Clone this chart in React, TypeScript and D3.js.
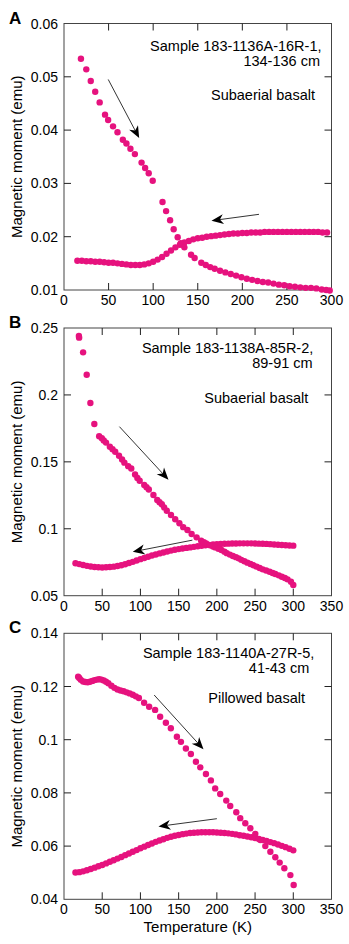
import React from "react";
import * as d3 from "d3";

type Pt = [number, number];

// ---------- Panel A data (Sample 183-1136A-16R-1) ----------
const heatingA: Pt[] = [
  [19, 0.0534], [25, 0.0514], [30, 0.0492], [35, 0.0472], [40, 0.0452], [46, 0.0429],
  [49.5, 0.0419], [55, 0.0407], [60, 0.0396], [66, 0.0382], [70, 0.0375], [74.5, 0.0365],
  [79.5, 0.0355], [87, 0.0339], [91, 0.0329], [95, 0.0319], [99.5, 0.0305], [110.5, 0.0265],
  [114.5, 0.0248], [119, 0.0231], [123, 0.0214], [127.5, 0.0199], [131, 0.0188], [135, 0.018],
  [142.5, 0.0166], [146.5, 0.016], [154, 0.0151], [159, 0.0147], [164, 0.0143], [169, 0.014],
  [175, 0.0136], [181, 0.0133], [187, 0.013], [193, 0.0127], [199, 0.0124], [205, 0.0121],
  [211, 0.0119], [217, 0.0117], [223, 0.0115], [229, 0.0114], [235, 0.0112], [241, 0.011],
  [247, 0.0109], [253, 0.0107], [259, 0.0106], [265, 0.0105], [271, 0.0104], [277, 0.0104],
  [283, 0.0103], [289, 0.0101], [294, 0.01], [298, 0.0099],
];
const coolingA: Pt[] = [
  [295, 0.0208], [290, 0.0208], [285, 0.0209], [280, 0.0209], [275, 0.0209], [270, 0.0209],
  [265, 0.0209], [260, 0.0209], [255, 0.0209], [250, 0.0209], [245, 0.0209], [240, 0.0209],
  [235, 0.0209], [230, 0.0209], [225, 0.0209], [220, 0.0208], [215, 0.0208], [210, 0.0208],
  [205, 0.0207], [200, 0.0207], [195, 0.0206], [190, 0.0206], [185, 0.0205], [180, 0.0204],
  [175, 0.0203], [170, 0.0202], [165, 0.0201], [160, 0.02], [155, 0.0198], [150, 0.0197],
  [145, 0.0195], [140, 0.0192], [135, 0.0189], [130, 0.0185], [125, 0.018], [120, 0.0174],
  [115, 0.0168], [110, 0.0162], [105, 0.0157], [100, 0.0153], [95, 0.015], [90, 0.0148],
  [85, 0.0147], [80, 0.0147], [75, 0.0147], [70, 0.0148], [65, 0.0149], [60, 0.015],
  [55, 0.0151], [50, 0.0151], [45, 0.0152], [40, 0.0153], [35, 0.0153], [30, 0.0154],
  [25, 0.0154], [20, 0.0155], [15, 0.0155],
];
const arrowsA: Pt[][] = [
  [[49.6, 0.0495], [84.3, 0.0385]],
  [[218.7, 0.0242], [165.4, 0.023]],
];
const xTicksA = [0, 50, 100, 150, 200, 250, 300];
const yTicksA = [0.01, 0.02, 0.03, 0.04, 0.05, 0.06];
const yLabelsA = ["0.01", "0.02", "0.03", "0.04", "0.05", "0.06"];
const textA = ["Sample 183-1136A-16R-1,", "134-136 cm", "Subaerial basalt"];

// ---------- Panel B data (Sample 183-1138A-85R-2) ----------
const heatingB: Pt[] = [
  [19.5, 0.244], [19.8, 0.2428], [25, 0.2318], [29.7, 0.2151], [34.5, 0.194], [39.7, 0.1783],
  [46, 0.1691], [49.5, 0.1676], [52, 0.166], [55, 0.1644], [60, 0.1613], [63.5, 0.1594],
  [67, 0.1576], [72, 0.1546], [76, 0.1518], [79, 0.1494], [84, 0.1468], [88, 0.145],
  [93, 0.1405], [96, 0.138], [99, 0.1359], [105, 0.1327], [108, 0.131], [111, 0.1293],
  [117, 0.1252], [122, 0.1215], [125, 0.1198], [128, 0.1183], [131, 0.116], [134.5, 0.1135],
  [140, 0.1103], [145.5, 0.1071], [151, 0.1041], [156, 0.1012], [161.5, 0.0991], [167, 0.0961],
  [173.5, 0.0936], [179.5, 0.0911], [183, 0.09], [186, 0.0891], [191, 0.0876], [195, 0.0868],
  [198, 0.0861], [202, 0.0851], [206, 0.0841], [210, 0.0829], [213, 0.0818], [217, 0.0807],
  [221, 0.0797], [225, 0.0788], [228.5, 0.0779], [232, 0.0768], [236, 0.0757], [240, 0.0747],
  [244, 0.0737], [248, 0.0727], [252, 0.0717], [256, 0.0707], [260, 0.0697], [264.5, 0.0688],
  [269, 0.0679], [273, 0.067], [276.5, 0.0662], [281, 0.0652], [285, 0.0642], [289, 0.0632],
  [292.5, 0.0622], [297, 0.0604], [300, 0.058],
];
const coolingB: Pt[] = [
  [15, 0.0742], [20, 0.0736], [25, 0.0729], [30, 0.0723], [35, 0.0718], [40, 0.0714],
  [45, 0.0712], [50, 0.0711], [55, 0.0712], [60, 0.0714], [65, 0.0717], [70, 0.0722],
  [75, 0.0728], [80, 0.0735], [85, 0.0744], [90, 0.0753], [95, 0.0763], [100, 0.0773],
  [105, 0.0782], [110, 0.0791], [115, 0.08], [120, 0.0808], [125, 0.0816], [130, 0.0823],
  [135, 0.083], [140, 0.0837], [145, 0.0843], [150, 0.0848], [155, 0.0853], [160, 0.0857],
  [165, 0.0861], [170, 0.0865], [175, 0.0869], [180, 0.0873], [185, 0.0877], [190, 0.088],
  [195, 0.0883], [200, 0.0885], [205, 0.0887], [210, 0.0888], [215, 0.0889], [220, 0.089],
  [225, 0.089], [230, 0.0891], [235, 0.0891], [240, 0.0891], [245, 0.0891], [250, 0.089],
  [255, 0.0889], [260, 0.0888], [265, 0.0887], [270, 0.0885], [275, 0.0883], [280, 0.0881],
  [285, 0.0879], [290, 0.0877], [295, 0.0875], [300, 0.0874],
];
const arrowsB: Pt[][] = [
  [[72.5, 0.1763], [136.7, 0.1366]],
  [[168, 0.0915], [90, 0.0828]],
];
const xTicksBC = [0, 50, 100, 150, 200, 250, 300, 350];
const yTicksB = [0.05, 0.1, 0.15, 0.2, 0.25];
const yLabelsB = ["0.05", "0.1", "0.15", "0.2", "0.25"];
const textB = ["Sample 183-1138A-85R-2,", "89-91 cm", "Subaerial basalt"];

// ---------- Panel C data (Sample 183-1140A-27R-5) ----------
const heatingC: Pt[] = [
  [18.5, 0.1237], [20, 0.1232], [22, 0.1225], [25, 0.1219], [28, 0.1217], [31, 0.1216],
  [34, 0.1218], [37, 0.1221], [40, 0.1224], [43, 0.1226], [46, 0.1227], [49, 0.1226],
  [52, 0.1223], [55, 0.1218], [58, 0.1212], [62, 0.1203], [66, 0.1195], [70, 0.1189],
  [74, 0.1185], [78, 0.1182], [82, 0.1178], [86, 0.1174], [90, 0.1169], [94, 0.1163],
  [98, 0.1157], [104.8, 0.1139], [111.4, 0.1124], [119.2, 0.1112], [125.8, 0.1086],
  [133.3, 0.1064], [139.8, 0.1043], [147.7, 0.1011], [153, 0.0992], [159.5, 0.0967],
  [166, 0.0946], [172.6, 0.0917], [178.3, 0.0896], [185.7, 0.0871], [192.2, 0.0847],
  [197.8, 0.0817], [204.4, 0.0796], [212.3, 0.0771], [217.5, 0.0751], [225.4, 0.0727],
  [230.6, 0.0705], [237.2, 0.0686], [243.8, 0.0667], [250.3, 0.0646], [256.9, 0.0623],
  [263.4, 0.06], [270, 0.0579], [276.5, 0.0558], [282.2, 0.0538], [288.3, 0.0517],
  [296.2, 0.0491], [300.5, 0.0454],
];
const coolingC: Pt[] = [
  [15, 0.0501], [20, 0.0502], [25, 0.0505], [30, 0.0509], [35, 0.0514], [40, 0.0519],
  [45, 0.0524], [50, 0.0529], [55, 0.0535], [60, 0.0541], [65, 0.0547], [70, 0.0553],
  [75, 0.0559], [80, 0.0566], [85, 0.0572], [90, 0.0579], [95, 0.0585], [100, 0.0592],
  [105, 0.0598], [110, 0.0604], [115, 0.061], [120, 0.0616], [125, 0.0621], [130, 0.0626],
  [135, 0.0631], [140, 0.0635], [145, 0.0639], [150, 0.0642], [155, 0.0645], [160, 0.0647],
  [165, 0.0649], [170, 0.065], [175, 0.0651], [180, 0.0652], [185, 0.0652], [190, 0.0652],
  [195, 0.0652], [200, 0.0651], [205, 0.065], [210, 0.0649], [215, 0.0648], [220, 0.0646],
  [225, 0.0644], [230, 0.0641], [235, 0.0639], [240, 0.0636], [245, 0.0633], [250, 0.063],
  [255, 0.0627], [260, 0.0623], [265, 0.0619], [270, 0.0615], [275, 0.0611], [280, 0.0606],
  [285, 0.0601], [290, 0.0596], [295, 0.059], [300, 0.0584],
];
const arrowsC: Pt[][] = [
  [[118, 0.1168], [182.5, 0.0964]],
  [[200, 0.0703], [123.6, 0.0674]],
];
const yTicksC = [0.04, 0.06, 0.08, 0.1, 0.12, 0.14];
const yLabelsC = ["0.04", "0.06", "0.08", "0.1", "0.12", "0.14"];
const textC = ["Sample 183-1140A-27R-5,", "41-43 cm", "Pillowed basalt"];

const xTitle = "Temperature (K)";
const yTitle = "Magnetic moment (emu)";

// ---------- layout / styles ----------
const FONT = "'Liberation Sans', Arial, Helvetica, sans-serif";
const DOT = "#e6127e";
const LEFT = 64;
const RIGHT = 331.5;
const TICK = 7;

interface PanelProps {
  letter: string;
  top: number;
  bottom: number;
  xMax: number;
  xTicks: number[];
  yTicks: number[];
  yLabels: string[];
  heating: Pt[];
  cooling: Pt[];
  arrows: Pt[][];
  texts: string[];
  textRight: number[];
  textBase: number[];
  showXTitle?: boolean;
}

function Panel(p: PanelProps) {
  const x = d3.scaleLinear().domain([0, p.xMax]).range([LEFT, RIGHT]);
  const y = d3
    .scaleLinear()
    .domain([p.yTicks[0], p.yTicks[p.yTicks.length - 1]])
    .range([p.bottom, p.top]);
  const inner = (v: number, d: number[]) => v > d[0] + 1e-9 && v < d[1] - 1e-9;
  const xd = x.domain();
  const yd = y.domain();

  const arrowHead = (a: Pt, b: Pt, key: string) => {
    const x1 = x(a[0]), y1 = y(a[1]), x2 = x(b[0]), y2 = y(b[1]);
    const ang = (Math.atan2(y2 - y1, x2 - x1) * 180) / Math.PI;
    return (
      <g key={key}>
        <line x1={x1} y1={y1} x2={x2 - (x2 - x1) * 0.08} y2={y2 - (y2 - y1) * 0.08} stroke="#000" strokeWidth={0.8} />
        <path
          d="M0,0 L-12,-5 L-8.5,0 L-12,5 Z"
          fill="#000"
          transform={`translate(${x2},${y2}) rotate(${ang})`}
        />
      </g>
    );
  };

  return (
    <g>
      <text x={9} y={p.top} fontFamily={FONT} fontWeight="bold" fontSize={17}>
        {p.letter}
      </text>
      {/* frame */}
      <rect x={LEFT} y={p.top} width={RIGHT - LEFT} height={p.bottom - p.top} fill="none" stroke="#444" strokeWidth={1} />
      {/* x ticks */}
      {p.xTicks.filter((t) => inner(t, xd)).map((t) => (
        <g key={"xt" + t}>
          <line x1={x(t)} x2={x(t)} y1={p.bottom} y2={p.bottom - TICK} stroke="#222" />
          <line x1={x(t)} x2={x(t)} y1={p.top} y2={p.top + TICK} stroke="#222" />
        </g>
      ))}
      {p.xTicks.map((t) => (
        <text key={"xl" + t} x={x(t)} y={p.bottom + 15} textAnchor="middle" fontFamily={FONT} fontSize={14}>
          {String(t)}
        </text>
      ))}
      {/* y ticks */}
      {p.yTicks.filter((t) => inner(t, yd)).map((t) => (
        <g key={"yt" + t}>
          <line x1={LEFT} x2={LEFT + TICK} y1={y(t)} y2={y(t)} stroke="#222" />
          <line x1={RIGHT} x2={RIGHT - TICK} y1={y(t)} y2={y(t)} stroke="#222" />
        </g>
      ))}
      {p.yTicks.map((t, i) => (
        <text key={"yl" + t} x={LEFT - 6} y={y(t) + 5} textAnchor="end" fontFamily={FONT} fontSize={14}>
          {p.yLabels[i]}
        </text>
      ))}
      {/* y title */}
      <text
        transform={`translate(22,${(p.top + p.bottom) / 2}) rotate(-90)`}
        textAnchor="middle"
        fontFamily={FONT}
        fontSize={15}
      >
        {yTitle}
      </text>
      {p.showXTitle && (
        <text x={(LEFT + RIGHT) / 2} y={p.bottom + 33} textAnchor="middle" fontFamily={FONT} fontSize={15}>
          {xTitle}
        </text>
      )}
      {/* annotations */}
      {p.texts.map((s, i) => (
        <text key={"tx" + i} x={p.textRight[i]} y={p.textBase[i]} textAnchor="end" fontFamily={FONT} fontSize={14.5}>
          {s}
        </text>
      ))}
      {/* data */}
      {p.cooling.map((d, i) => (
        <circle key={"c" + i} cx={x(d[0])} cy={y(d[1])} r={3.2} fill={DOT} />
      ))}
      {p.heating.map((d, i) => (
        <circle key={"h" + i} cx={x(d[0])} cy={y(d[1])} r={3.2} fill={DOT} />
      ))}
      {p.arrows.map((a, i) => arrowHead(a[0], a[1], "a" + i))}
    </g>
  );
}

export default function App() {
  return (
    <svg
      width={349}
      height={944}
      viewBox="0 0 349 944"
      style={{ position: "absolute", left: 0, top: 0, background: "#fff" }}
    >
      <rect width={349} height={944} fill="#fff" />
      <Panel
        letter="A"
        top={23.5}
        bottom={290}
        xMax={300}
        xTicks={xTicksA}
        yTicks={yTicksA}
        yLabels={yLabelsA}
        heating={heatingA}
        cooling={coolingA}
        arrows={arrowsA}
        texts={textA}
        textRight={[321.5, 320, 315]}
        textBase={[50.5, 66, 100]}
      />
      <Panel
        letter="B"
        top={328}
        bottom={595.7}
        xMax={350}
        xTicks={xTicksBC}
        yTicks={yTicksB}
        yLabels={yLabelsB}
        heating={heatingB}
        cooling={coolingB}
        arrows={arrowsB}
        texts={textB}
        textRight={[313.3, 312.7, 308.3]}
        textBase={[353.3, 368.3, 402.7]}
      />
      <Panel
        letter="C"
        top={633.3}
        bottom={899.3}
        xMax={350}
        xTicks={xTicksBC}
        yTicks={yTicksC}
        yLabels={yLabelsC}
        heating={heatingC}
        cooling={coolingC}
        arrows={arrowsC}
        texts={textC}
        textRight={[314.3, 309.3, 305]}
        textBase={[657.7, 673.3, 702.7]}
        showXTitle
      />
    </svg>
  );
}
